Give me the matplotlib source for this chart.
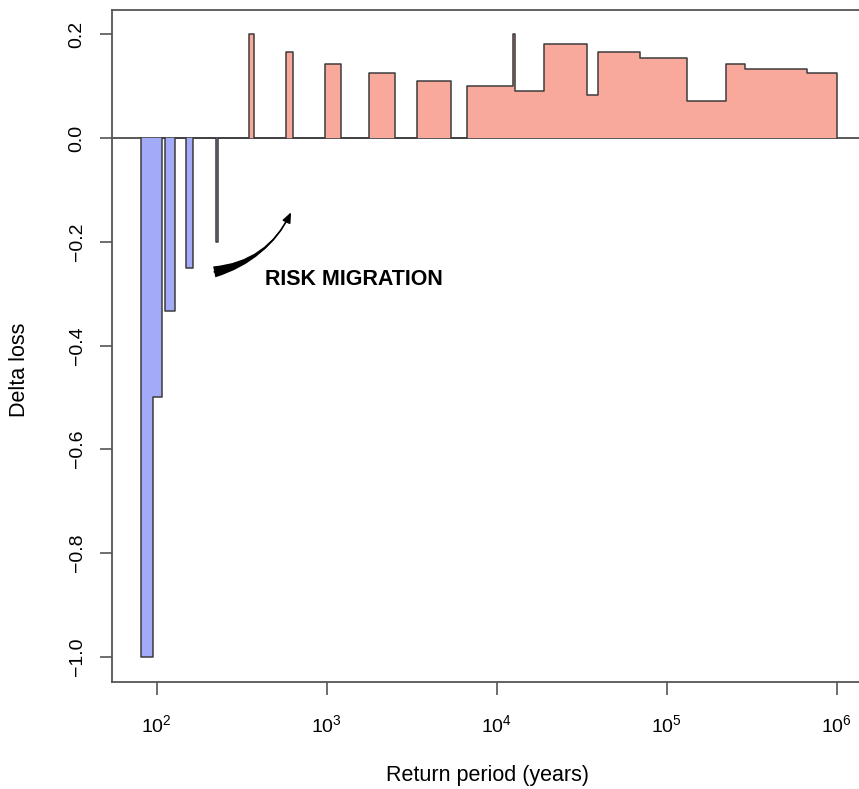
import numpy as np
import matplotlib
matplotlib.use('Agg')
import matplotlib.pyplot as plt

FONT = 'Liberation Sans'
plt.rcParams.update({
    'font.family': FONT,
    'mathtext.fontset': 'custom',
    'mathtext.rm': FONT,
    'axes.unicode_minus': True,
})

# return period interval edges (years) and delta loss on each interval
period_edges = [81, 95, 107.5, 112, 128, 149, 164, 223, 229.5, 349,
                373, 575, 633, 976, 1213, 1773, 2522, 3397, 5383, 6686,
                12470, 12730, 18980, 33980, 39420, 69660, 131600, 223200,
                288800, 669300, 1000000]
delta_loss = [-1.0, -0.5, 0, -0.333, 0, -0.25, 0, -0.2, 0, 0.2,
              0, 0.167, 0, 0.143, 0, 0.125, 0, 0.111, 0, 0.1,
              0.2, 0.091, 0.182, 0.083, 0.167, 0.154, 0.071, 0.143,
              0.133, 0.125]

x_ticks = [1e2, 1e3, 1e4, 1e5, 1e6]
x_ticklabels = ['$10^{2}$', '$10^{3}$', '$10^{4}$', '$10^{5}$', '$10^{6}$']
y_ticks = [-1.0, -0.8, -0.6, -0.4, -0.2, 0.0, 0.2]

BLUE = '#A3AAF8'
RED = '#F9A99C'
EDGE = '#3c3c3c'
FRAME = '#555555'

W, H = 859, 789
fig = plt.figure(figsize=(W / 100, H / 100), dpi=100)
ax = fig.add_axes([112 / W, 107.5 / H, 753 / W, 672 / H])

xs = np.repeat(period_edges, 2)
ys = np.concatenate([[0], np.repeat(delta_loss, 2), [0]])

ax.axhline(0, color=EDGE, lw=1.2, zorder=1)
ax.fill_between(xs, np.minimum(ys, 0), 0, color=BLUE, lw=0, zorder=2)
ax.fill_between(xs, np.maximum(ys, 0), 0, color=RED, lw=0, zorder=2)
ax.plot(xs, ys, color=EDGE, lw=1.1, zorder=3)

ax.set_xscale('log')
ax.set_xlim(10 ** 1.737, 10 ** 6.166)
ax.set_ylim(-1.048, 0.248)

ax.set_xticks(x_ticks)
ax.set_xticklabels(x_ticklabels)
ax.xaxis.set_minor_locator(matplotlib.ticker.NullLocator())
ax.set_yticks(y_ticks)
ax.set_yticklabels([f'{v:.1f}'.replace('-', '\u2212') for v in y_ticks])
for lab in ax.get_yticklabels():
    lab.set_rotation(90)
    lab.set_va('center')

ax.tick_params(axis='both', direction='out', length=9, width=1.2,
               color=FRAME, labelsize=14)
ax.tick_params(axis='x', pad=15)
ax.tick_params(axis='y', pad=10)
for sp in ax.spines.values():
    sp.set_color(FRAME)
    sp.set_linewidth(1.3)

fig.text(487 / W, 1 - 775 / H, 'Return period (years)', ha='center',
         va='center', fontsize=15.5)
fig.text(20 / W, 1 - 370 / H, 'Delta loss', ha='center', va='center',
         rotation=90, fontsize=15.5)

# risk migration arrow
tail = (218, -0.258)
head = (617, -0.143)
ax.annotate('', xy=head, xytext=tail,
            arrowprops=dict(arrowstyle='wedge,tail_width=0.8,shrink_factor=0.25',
                            connectionstyle='arc3,rad=0.25', color='black',
                            lw=0, shrinkA=0, shrinkB=0))
ax.annotate('', xy=head, xytext=tail,
            arrowprops=dict(arrowstyle='-|>,head_length=0.6,head_width=0.25',
                            connectionstyle='arc3,rad=0.25', color='black',
                            lw=1.2, shrinkA=0, shrinkB=0))
ax.text(432, -0.272, 'RISK MIGRATION', ha='left', va='center',
        fontsize=15.5, fontweight='bold')

fig.savefig('out.png', dpi=100)
